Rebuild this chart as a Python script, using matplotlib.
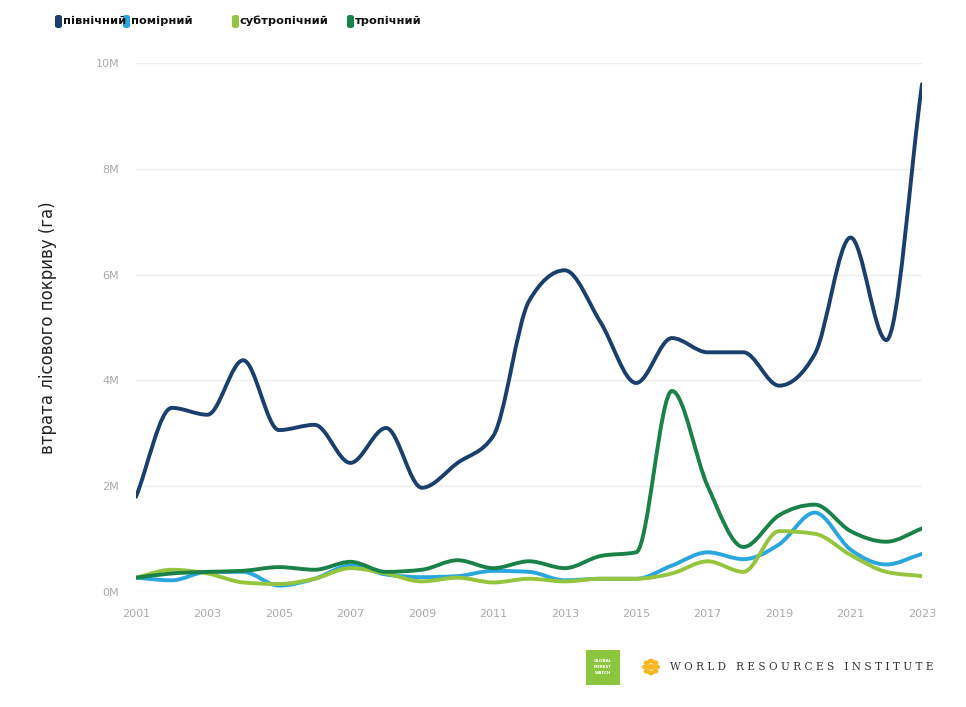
import matplotlib.pyplot as plt
import numpy as np
from matplotlib.path import Path
from matplotlib.patches import PathPatch, FancyBboxPatch, Circle

years = list(range(2001, 2024))

# Forest cover loss, millions of hectares
boreal = [1.8, 3.48, 3.35, 4.38, 3.06, 3.16, 2.44, 3.1, 1.97, 2.44, 2.95, 5.5,
          6.08, 5.1, 3.95, 4.8, 4.53, 4.53, 3.9, 4.5, 6.7, 4.76, 9.6]
temperate = [0.27, 0.22, 0.38, 0.38, 0.12, 0.25, 0.5, 0.33, 0.28, 0.3, 0.4, 0.38,
             0.22, 0.25, 0.25, 0.5, 0.75, 0.62, 0.9, 1.5, 0.8, 0.52, 0.72]
subtropical = [0.27, 0.42, 0.35, 0.18, 0.15, 0.25, 0.45, 0.35, 0.2, 0.27, 0.18, 0.25,
               0.2, 0.25, 0.25, 0.35, 0.58, 0.38, 1.15, 1.1, 0.7, 0.38, 0.3]
tropical = [0.27, 0.35, 0.38, 0.4, 0.47, 0.42, 0.57, 0.38, 0.42, 0.6, 0.45, 0.58,
            0.45, 0.68, 0.75, 3.8, 2.0, 0.85, 1.45, 1.65, 1.15, 0.95, 1.2]

series = [
    ('північний', boreal, '#1b3f6d'),
    ('помірний', temperate, '#2aa6df'),
    ('субтропічний', subtropical, '#95c53d'),
    ('тропічний', tropical, '#1a8249'),
]
y_ticks = [0, 2, 4, 6, 8, 10]
x_ticks = list(range(2001, 2024, 2))


def monotone_path(x, y):
    # monotone cubic (like d3 curveMonotoneX) expressed as bezier segments
    x = np.asarray(x, float)
    y = np.asarray(y, float)
    h = np.diff(x)
    d = np.diff(y) / h
    m = np.zeros_like(y)
    m[0], m[-1] = d[0], d[-1]
    for i in range(1, len(y) - 1):
        if d[i - 1] * d[i] <= 0:
            m[i] = 0
        else:
            m[i] = (np.sign(d[i - 1]) + np.sign(d[i])) * min(abs(d[i - 1]), abs(d[i]),
                                                            0.5 * abs((h[i - 1] * d[i] + h[i] * d[i - 1]) / (h[i - 1] + h[i])))
    verts = [(x[0], y[0])]
    codes = [Path.MOVETO]
    for i in range(len(x) - 1):
        dx = h[i] / 3
        verts += [(x[i] + dx, y[i] + m[i] * dx), (x[i + 1] - dx, y[i + 1] - m[i + 1] * dx), (x[i + 1], y[i + 1])]
        codes += [Path.CURVE4] * 3
    return Path(verts, codes)


fig = plt.figure(figsize=(9.66, 7.07), dpi=100)
ax = fig.add_axes([0.1408, 0.1627, 0.8137, 0.7483])

for name, vals, col in series:
    ax.add_patch(PathPatch(monotone_path(years, vals), facecolor='none', edgecolor=col,
                           lw=2.8, capstyle='round', joinstyle='round', zorder=3))

ax.set_xlim(2001, 2023)
ax.set_ylim(0, 10)
ax.set_yticks(y_ticks)
ax.set_yticklabels([f'{v}M' for v in y_ticks])
ax.set_xticks(x_ticks)
ax.tick_params(length=0, labelsize=8, labelcolor='#aaaaaa')
ax.tick_params(axis='x', pad=12)
ax.tick_params(axis='y', pad=12)
ax.grid(axis='y', color='#eeeeee', lw=1)
ax.set_axisbelow(True)
for s in ax.spines.values():
    s.set_visible(False)
ax.set_ylabel('втрата лісового покриву (га)', fontsize=12, color='#222222', labelpad=28)

# legend at top
leg_x = [55, 123, 232, 347]
for (name, vals, col), lx in zip(series, leg_x):
    fig.patches.append(FancyBboxPatch((lx / 966, 1 - 28 / 707), 7 / 966, 13 / 707,
                                      boxstyle='round,pad=0,rounding_size=0.003',
                                      transform=fig.transFigure, facecolor=col, edgecolor='none'))
    fig.text((lx + 8) / 966, 1 - 21 / 707, name, fontsize=8.2, fontweight='bold',
             color='#111111', va='center', ha='left')

# logos
fig.patches.append(FancyBboxPatch((586 / 966, 1 - 685 / 707), 34 / 966, 35 / 707,
                                  boxstyle='square,pad=0', transform=fig.transFigure,
                                  facecolor='#8cc63f', edgecolor='none'))
fig.text(603 / 966, 1 - 667 / 707, 'GLOBAL\nFOREST\nWATCH', fontsize=3, color='white',
         ha='center', va='center', fontweight='bold', linespacing=1.6)
for a in np.linspace(0, 2 * np.pi, 8, endpoint=False):
    fig.patches.append(Circle(((651 + 6 * np.cos(a)) / 966, 1 - (667 + 6 * np.sin(a)) / 707),
                              3.2 / 966, transform=fig.transFigure, facecolor='#f5b71f', edgecolor='none'))
fig.patches.append(Circle((651 / 966, 1 - 667 / 707), 4 / 966, transform=fig.transFigure,
                          facecolor='#f5b71f', edgecolor='none'))
fig.text(670 / 966, 1 - 667 / 707, 'W O R L D   R E S O U R C E S   I N S T I T U T E',
         fontsize=7.6, family='DejaVu Serif', color='#333333', va='center', ha='left')

fig.savefig('out.png', dpi=100, facecolor='white')
